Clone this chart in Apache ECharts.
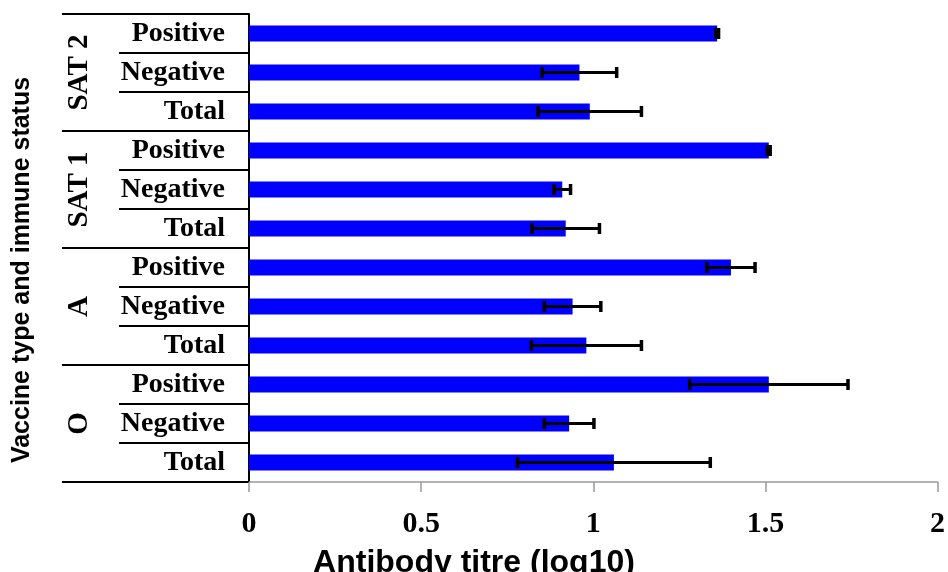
<!DOCTYPE html>
<html>
<head>
<meta charset="utf-8">
<script src="https://cdn.jsdelivr.net/npm/echarts@6/dist/echarts.min.js"></script>
<style>
html,body{margin:0;padding:0;background:#fff;}
#chart{width:948px;height:572px;}
</style>
</head>
<body>
<div id="chart"></div>
<script>
// Rows from top to bottom
var rowLabels = ['Positive','Negative','Total','Positive','Negative','Total','Positive','Negative','Total','Positive','Negative','Total'];
var groupLabels = ['SAT 2','SAT 1','A','O'];
var means = [1.36, 0.96, 0.99, 1.51, 0.91, 0.92, 1.40, 0.94, 0.98, 1.51, 0.93, 1.06];
var errors = [0.004, 0.108, 0.15, 0.004, 0.024, 0.098, 0.07, 0.082, 0.16, 0.23, 0.072, 0.28];
var xTicks = [0, 0.5, 1, 1.5, 2];
var xTitle = 'Antibody titre (log10)';
var yTitle = 'Vaccine type and immune status';

var errData = means.map(function (m, i) { return [i, m - errors[i], m + errors[i]]; });

var chart = echarts.init(document.getElementById('chart'), null, {renderer: 'canvas'});
var serif = '"Liberation Serif","Times New Roman",serif';
var sans = '"Liberation Sans",Arial,sans-serif';

chart.setOption({
  animation: false,
  backgroundColor: '#ffffff',
  grid: {left: 249, right: 8, top: 14, bottom: 90, containLabel: false},
  xAxis: {
    type: 'value', min: xTicks[0], max: xTicks[xTicks.length - 1], interval: 0.5,
    axisLine: {show: true, lineStyle: {color: '#999999', width: 1.5}},
    axisTick: {show: true, length: 10, lineStyle: {color: '#999999', width: 1.5}},
    splitLine: {show: false},
    axisLabel: {color: '#000', fontFamily: serif, fontWeight: 'bold', fontSize: 30, margin: 27}
  },
  yAxis: [{
    type: 'category', data: rowLabels, inverse: true, position: 'left',
    axisLine: {show: true, lineStyle: {color: '#000', width: 2}},
    axisTick: {show: true, length: 130, lineStyle: {color: '#000', width: 2}},
    axisLabel: {color: '#000', fontFamily: serif, fontWeight: 'bold', fontSize: 28, margin: 24},
    splitLine: {show: false}
  }, {
    type: 'category', data: groupLabels, inverse: true, position: 'left', offset: 0,
    axisLine: {show: false},
    axisTick: {show: true, length: 187, lineStyle: {color: '#000', width: 2}},
    axisLabel: {color: '#000', fontFamily: serif, fontWeight: 'bold', fontSize: 29, rotate: 90, margin: 155},
    splitLine: {show: false}
  }],
  graphic: [{
    type: 'text', x: 22, y: 270, rotation: Math.PI / 2,
    style: {text: yTitle, font: 'bold 25px ' + sans, fill: '#000', textAlign: 'center', textVerticalAlign: 'middle'}
  }, {
    type: 'text', x: 474, y: 563,
    style: {text: xTitle, font: 'bold 32px ' + sans, fill: '#000', textAlign: 'center', textVerticalAlign: 'middle'}
  }],
  series: [{
    type: 'bar', yAxisIndex: 0, data: means, barWidth: 16,
    itemStyle: {color: '#0000FF'}, z: 2
  }, {
    type: 'custom', yAxisIndex: 0, data: errData, z: 5,
    encode: {y: 0, x: [1, 2]},
    renderItem: function (params, api) {
      var c = api.value(0);
      var lo = api.coord([api.value(1), c]);
      var hi = api.coord([api.value(2), c]);
      var h = 5.5;
      var st = {stroke: '#000', lineWidth: 3};
      var cap = {stroke: '#000', lineWidth: 3.5};
      return {type: 'group', children: [
        {type: 'line', shape: {x1: lo[0], y1: lo[1], x2: hi[0], y2: hi[1]}, style: st},
        {type: 'line', shape: {x1: lo[0], y1: lo[1] - h, x2: lo[0], y2: lo[1] + h}, style: cap},
        {type: 'line', shape: {x1: hi[0], y1: hi[1] - h, x2: hi[0], y2: hi[1] + h}, style: cap}
      ]};
    }
  }]
});
</script>
</body>
</html>
